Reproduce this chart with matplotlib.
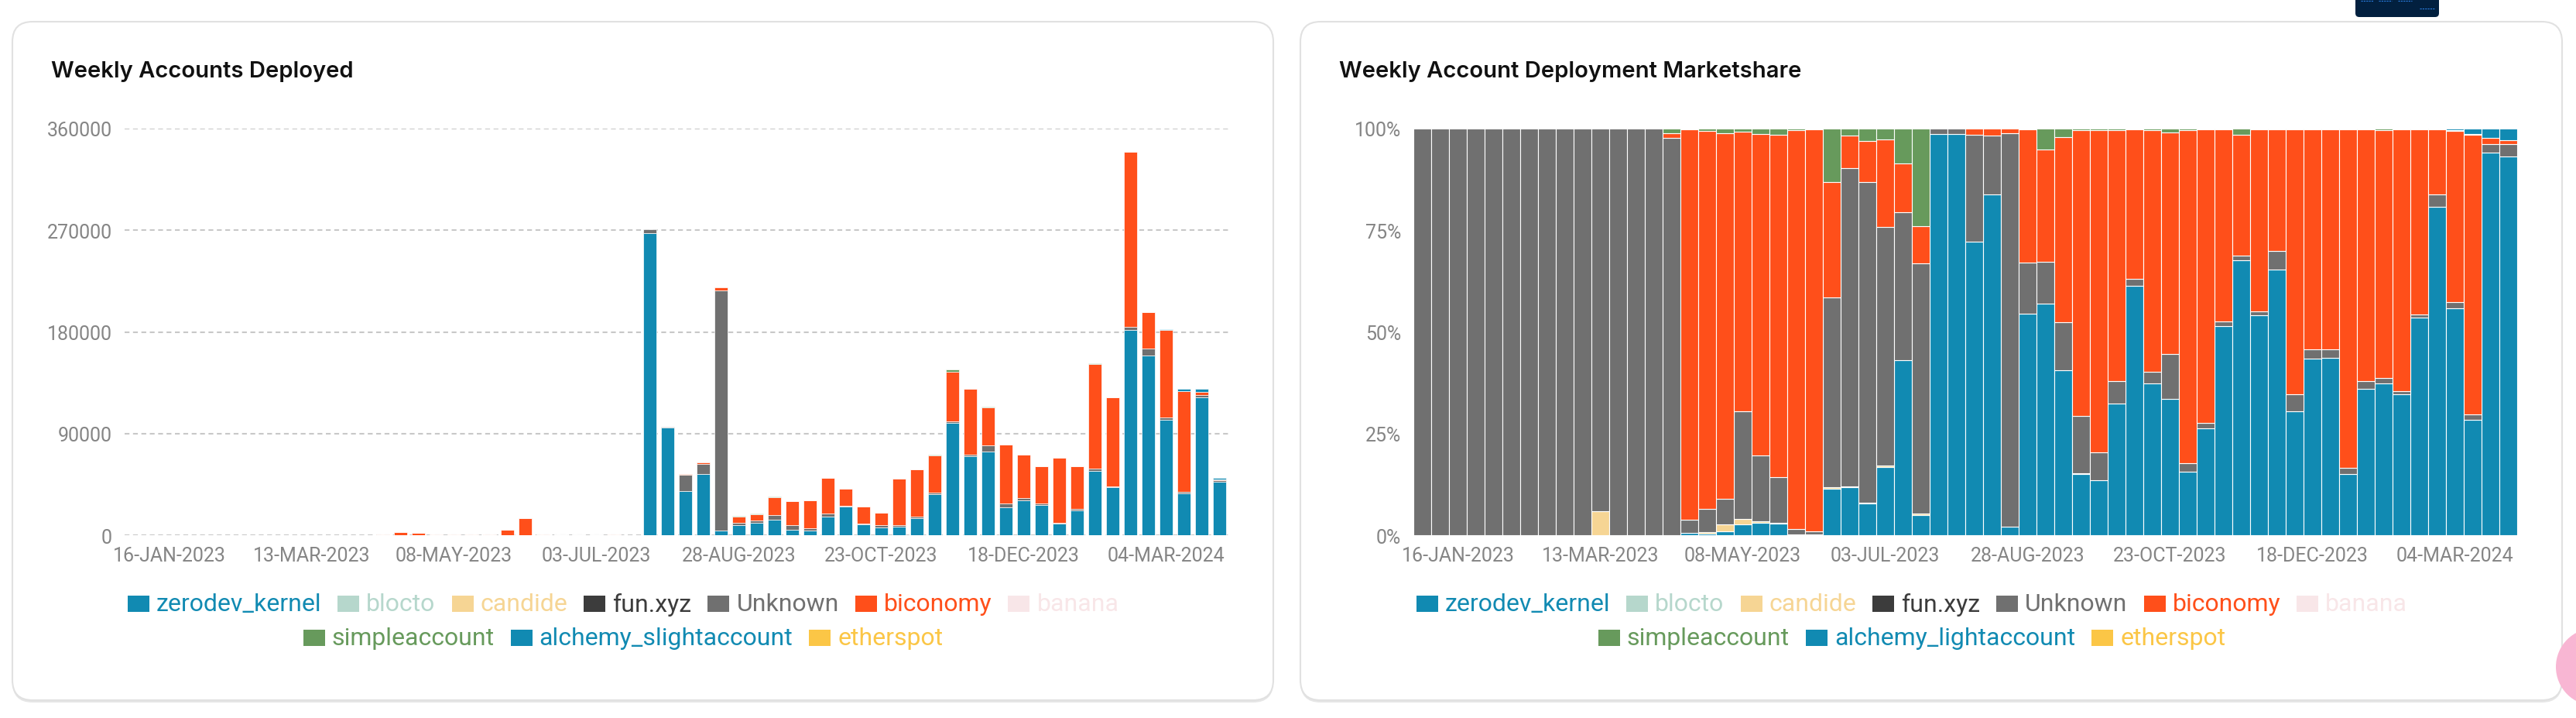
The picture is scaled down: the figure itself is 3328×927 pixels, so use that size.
import matplotlib
matplotlib.use('Agg')
import matplotlib.pyplot as plt
from matplotlib.patches import FancyBboxPatch, Rectangle, Circle
import numpy as np

plt.rcParams['font.family'] = ['Roboto', 'DejaVu Sans']

# ---------------- data ----------------
weeks = [
    '02-JAN-2023', '09-JAN-2023', '16-JAN-2023', '23-JAN-2023', '30-JAN-2023', '06-FEB-2023',
    '13-FEB-2023', '20-FEB-2023', '27-FEB-2023', '06-MAR-2023', '13-MAR-2023', '20-MAR-2023',
    '27-MAR-2023', '03-APR-2023', '10-APR-2023', '17-APR-2023', '24-APR-2023', '01-MAY-2023',
    '08-MAY-2023', '15-MAY-2023', '22-MAY-2023', '29-MAY-2023', '05-JUN-2023', '12-JUN-2023',
    '19-JUN-2023', '26-JUN-2023', '03-JUL-2023', '10-JUL-2023', '17-JUL-2023', '24-JUL-2023',
    '31-JUL-2023', '07-AUG-2023', '14-AUG-2023', '21-AUG-2023', '28-AUG-2023', '04-SEP-2023',
    '11-SEP-2023', '18-SEP-2023', '25-SEP-2023', '02-OCT-2023', '09-OCT-2023', '16-OCT-2023',
    '23-OCT-2023', '30-OCT-2023', '06-NOV-2023', '13-NOV-2023', '20-NOV-2023', '27-NOV-2023',
    '04-DEC-2023', '11-DEC-2023', '18-DEC-2023', '25-DEC-2023', '01-JAN-2024', '08-JAN-2024',
    '15-JAN-2024', '29-JAN-2024', '12-FEB-2024', '26-FEB-2024', '04-MAR-2024', '11-MAR-2024',
    '18-MAR-2024', '25-MAR-2024',
]
shown_tick_idx = [2, 10, 18, 26, 34, 42, 50, 58]

zerodev_kernel = [
    0, 0, 0, 0, 0, 0, 0, 0, 0, 0, 0, 0, 0, 0, 0,
    14, 7, 5, 13, 22, 28, 10, 15, 57, 47, 47, 84, 172, 15,
    267400, 95000, 39200, 53860, 4390, 9140, 11100, 13770, 4500, 4140, 16520,
    25110, 9570, 6730, 7850, 15350, 36550, 99370, 70060, 74120, 24550, 31070,
    26610, 10250, 21980, 56960, 42180, 181740, 159380, 101910, 36780, 121860, 47350,
]
blocto = [
    0, 0, 0, 0, 0, 0, 0, 0, 0, 0, 0, 0, 0, 0, 0, 0, 0, 0, 0, 0, 0, 0, 0, 0, 0, 0, 0, 0, 0, 0, 0,
    0, 0, 0, 0, 0, 0, 0, 0, 0, 0, 0, 0, 0, 0, 0, 0, 0, 0, 0, 0, 0, 0, 0, 0, 0, 0, 0, 0, 0, 0, 0,
]
candide = [
    0, 0, 0, 0, 0, 0, 0, 0, 0, 0, 1, 0, 0, 0, 0,
    0, 7, 8, 7, 2, 2, 0, 0, 2, 1, 1, 2, 0, 1,
    0, 0, 0, 0, 0, 0, 0, 0, 90, 0, 0,
    0, 0, 0, 0, 0, 0, 0, 0, 0, 0, 0,
    0, 0, 0, 0, 0, 0, 0, 0, 0, 0, 0,
]
fun_xyz = [
    0, 0, 0, 0, 0, 0, 0, 0, 0, 0, 0, 0, 0, 0, 0, 0, 0, 0, 0, 0, 0, 0, 0, 0, 0, 0, 0, 0, 0, 0, 0,
    0, 0, 0, 0, 0, 0, 0, 0, 0, 0, 0, 0, 0, 0, 0, 0, 0, 0, 0, 0, 0, 0, 0, 0, 0, 0, 0, 0, 0, 0, 0,
]
unknown = [
    12, 8, 15, 10, 9, 14, 11, 13, 10, 12, 16, 9, 11, 14, 342,
    95, 104, 32, 132, 113, 112, 67, 122, 233, 312, 473, 292, 146, 184,
    3500, 1200, 14230, 9180, 212600, 2117, 2010, 4010, 4230, 2090, 2800,
    700, 740, 2230, 1050, 880, 850, 1760, 1300, 5330, 3300, 1650,
    1280, 1020, 1160, 1830, 1100, 2380, 6120, 2550, 1810, 2590, 1470,
]
biconomy = [
    0, 0, 0, 0, 0, 0, 0, 0, 0, 0, 0, 0, 0, 0, 4,
    2685, 1670, 449, 344, 554, 843, 4704, 15033, 142, 32, 61, 108, 48, 27,
    0, 0, 870, 1160, 2410, 5510, 5400, 15540, 21060, 24380, 31520,
    15010, 15210, 10950, 40950, 42250, 33560, 43660, 58020, 33940, 52570, 38810,
    32950, 56960, 37700, 93060, 78500, 155240, 31800, 76930, 88840, 2070, 510,
]
banana = [
    0, 0, 0, 0, 0, 0, 0, 0, 0, 0, 0, 0, 0, 0, 0, 0, 0, 0, 0, 0, 0, 0, 0, 0, 0, 0, 0, 0, 0, 0, 0,
    0, 0, 0, 0, 0, 0, 0, 0, 0, 0, 0, 0, 0, 0, 0, 0, 0, 0, 0, 0, 0, 0, 0, 0, 0, 0, 0, 0, 0, 0, 0,
]
simpleaccount = [
    0, 0, 0, 0, 0, 0, 0, 0, 0, 0, 0, 0, 0, 0, 4,
    6, 11, 6, 4, 9, 15, 19, 30, 66, 7, 18, 13, 34, 72,
    0, 0, 0, 0, 0, 34, 995, 680, 120, 90, 150,
    80, 80, 180, 150, 120, 140, 2210, 130, 110, 80, 70,
    60, 70, 60, 460, 120, 340, 200, 180, 390, 0, 0,
]
alchemy_lightaccount = [
    0, 0, 0, 0, 0, 0, 0, 0, 0, 0, 0, 0, 0, 0, 0,
    0, 0, 0, 0, 0, 0, 0, 0, 0, 0, 0, 0, 0, 0,
    0, 0, 0, 0, 0, 0, 0, 0, 0, 0, 0,
    0, 0, 0, 0, 0, 0, 0, 0, 0, 0, 0,
    0, 0, 0, 0, 0, 0, 0, 730, 1680, 2980, 1470,
]
etherspot = [
    0, 0, 0, 0, 0, 0, 0, 0, 0, 0, 0, 0, 0, 0, 0, 0, 0, 0, 0, 0, 0, 0, 0, 0, 0, 0, 0, 0, 0, 0, 0,
    0, 0, 0, 0, 0, 0, 0, 0, 0, 0, 0, 0, 0, 0, 0, 0, 0, 0, 0, 0, 0, 0, 0, 0, 0, 0, 0, 0, 0, 0, 0,
]

series_keys = ['zerodev_kernel', 'blocto', 'candide', 'fun.xyz', 'Unknown', 'biconomy',
               'banana', 'simpleaccount', 'alchemy_lightaccount', 'etherspot']
series_vals = [zerodev_kernel, blocto, candide, fun_xyz, unknown, biconomy,
               banana, simpleaccount, alchemy_lightaccount, etherspot]
series_colors = ['#118ab2', '#b6d7cc', '#f6d594', '#3c3c3c', '#707070', '#ff4f1a',
                 '#f8e6e8', '#679a5c', '#118ab2', '#fbc646']
left_legend_labels = ['zerodev_kernel', 'blocto', 'candide', 'fun.xyz', 'Unknown', 'biconomy',
                      'banana', 'simpleaccount', 'alchemy_slightaccount', 'etherspot']
right_legend_labels = series_keys
left_yticks = [0, 90000, 180000, 270000, 360000]
right_yticks = [0, 25, 50, 75, 100]
right_ytick_labels = ['0%', '25%', '50%', '75%', '100%']

# ---------------- figure ----------------
W, H, DPI = 3328, 928, 100
fig = plt.figure(figsize=(W / DPI, H / DPI), dpi=DPI, facecolor='white')

bg = fig.add_axes([0, 0, 1, 1], zorder=0)
bg.set_xlim(0, W)
bg.set_ylim(H, 0)
bg.axis('off')

# cards
for (x0, x1) in [(16, 1645), (1680, 3310)]:
    shadow = FancyBboxPatch((x0, 33), x1 - x0, 905 - 30, boxstyle='round,pad=0,rounding_size=26',
                            facecolor='#e6e6e6', edgecolor='none', zorder=0)
    bg.add_patch(shadow)
    card = FancyBboxPatch((x0, 29), x1 - x0, 905 - 29, boxstyle='round,pad=0,rounding_size=26',
                          facecolor='white', edgecolor='#e1e1e1', linewidth=1.5, zorder=1)
    bg.add_patch(card)

# decorative overlay elements from the page
nav = FancyBboxPatch((3043, -12), 108, 35, boxstyle='round,pad=0,rounding_size=5',
                     facecolor='#02203f', edgecolor='none', zorder=2)
bg.add_patch(nav)
for (xa, xb, yy) in [(3050, 3066, 2), (3073, 3090, 2), (3098, 3116, 2), (3126, 3146, 12)]:
    bg.plot([xa, xb], [yy, yy], color='#2a7de1', lw=0.8, ls=(0, (2, 1)), zorder=3)
bg.add_patch(Circle((3352, 862), 50, facecolor='#f8b6d3', edgecolor='none', zorder=2))

# titles
fig.text(66 / W, 1 - 93 / H, 'Weekly Accounts Deployed', fontsize=21, fontweight='semibold',
         family=['Inter', 'DejaVu Sans'], color='#111111', va='center', ha='left')
fig.text(1730 / W, 1 - 93 / H, 'Weekly Account Deployment Marketshare', fontsize=21,
         fontweight='semibold', family=['Inter', 'DejaVu Sans'], color='#111111',
         va='center', ha='left')

n = len(weeks)
x = np.arange(n)
vals = [np.array(v, dtype=float) for v in series_vals]
totals = np.sum(vals, axis=0)

ax_bottom = (H - 692) / H
ax_height = (692 - 167) / H
ax_w = 1426 / W
axL = fig.add_axes([161 / W, ax_bottom, ax_w, ax_height], zorder=2)
axR = fig.add_axes([1826 / W, ax_bottom, ax_w, ax_height], zorder=2)

tick_color = '#858585'
for ax in (axL, axR):
    ax.set_facecolor('none')
    for s in ax.spines.values():
        s.set_visible(False)
    ax.set_xlim(-0.5, n - 0.5)
    ax.set_xticks(shown_tick_idx)
    ax.set_xticklabels([weeks[i] for i in shown_tick_idx])
    ax.tick_params(axis='both', length=0, labelsize=18, labelcolor=tick_color)
    ax.tick_params(axis='x', pad=10)
    ax.tick_params(axis='y', pad=11.5)

# left: absolute stacked
bottom = np.zeros(n)
for v, c in zip(vals, series_colors):
    m = v > 0
    if m.any():
        axL.bar(x[m], v[m], width=0.78, bottom=bottom[m], color=c, edgecolor='white',
                linewidth=0.5, zorder=3)
    bottom = bottom + v
axL.set_ylim(0, 360000)
axL.set_yticks(left_yticks)
axL.set_yticklabels([str(t) for t in left_yticks])
axL.yaxis.grid(True, color='#c8c8c8', linestyle=(0, (3, 2.2)), linewidth=1.5, zorder=0)
axL.set_axisbelow(True)

# right: percent stacked
bottom = np.zeros(n)
for v, c in zip(vals, series_colors):
    pct = v / totals * 100
    m = pct > 0
    if m.any():
        axR.bar(x[m], pct[m], width=1.0, bottom=bottom[m], color=c, edgecolor='white',
                linewidth=0.8, zorder=3)
    bottom = bottom + pct
axR.set_ylim(0, 100)
axR.set_yticks(right_yticks)
axR.set_yticklabels(right_ytick_labels)

# legends
renderer = fig.canvas.get_renderer()


def draw_legend(labels, cx, rows_idx, rows_y):
    fs = 23
    sw_w, sw_h, gap_t, gap_i = 28, 21, 9, 21
    for idxs, yc in zip(rows_idx, rows_y):
        widths = []
        for i in idxs:
            t = bg.text(0, 0, labels[i], fontsize=fs)
            widths.append(t.get_window_extent(renderer).width)
            t.remove()
        total = sum(sw_w + gap_t + w for w in widths) + gap_i * (len(idxs) - 1)
        xx = cx - total / 2
        for i, w in zip(idxs, widths):
            col = series_colors[i]
            bg.add_patch(Rectangle((xx, yc - sw_h / 2), sw_w, sw_h, facecolor=col,
                                   edgecolor='none', zorder=4))
            bg.text(xx + sw_w + gap_t, yc + 1, labels[i], fontsize=fs, color=col,
                    va='center', ha='left', zorder=4)
            xx += sw_w + gap_t + w + gap_i


rows = [[0, 1, 2, 3, 4, 5, 6], [7, 8, 9]]
draw_legend(left_legend_labels, 805, rows, [780, 824])
draw_legend(right_legend_labels, 2470, rows, [780, 824])

fig.savefig('out.png', dpi=DPI, facecolor='white')
